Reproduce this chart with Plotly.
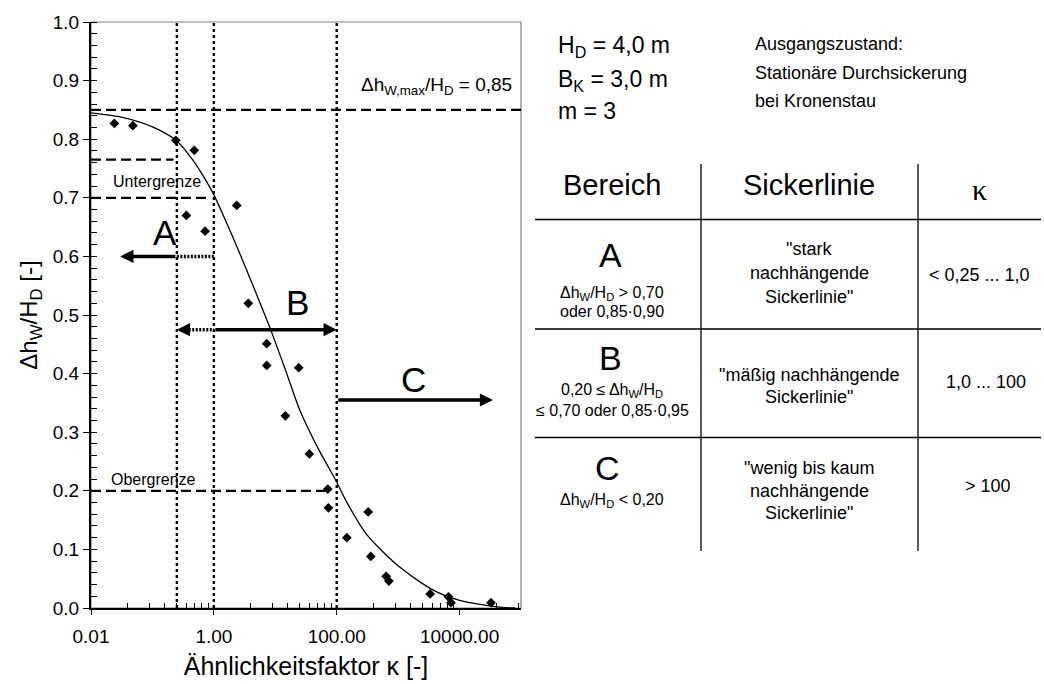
import numpy as np
import plotly.graph_objects as go

FONT = "Liberation Sans, Arial, sans-serif"

# ---------------- data ----------------
kappa_pts = [0.024, 0.048, 0.24, 0.48, 0.357, 0.72, 2.36, 3.64, 7.25, 7.25, 14.6, 24.1,
             35.9, 71.6, 73.3, 146, 325, 359, 638, 707, 3320, 6600, 7240, 32500]
dh_pts = [0.827, 0.823, 0.798, 0.781, 0.670, 0.643, 0.687, 0.520, 0.451, 0.414, 0.328, 0.410,
          0.263, 0.203, 0.171, 0.120, 0.164, 0.088, 0.054, 0.046, 0.024, 0.019, 0.009, 0.009]

kappa_curve = [0.01, 0.03, 0.1, 0.25, 0.45, 0.68, 1.0, 1.6, 2.5, 4.5, 8.2, 15, 25, 50, 100,
               140, 300, 1000, 3800, 10000, 30000, 55000, 80000]
dh_curve = [0.845, 0.838, 0.821, 0.797, 0.765, 0.736, 0.705, 0.658, 0.611, 0.546, 0.478, 0.403,
            0.338, 0.272, 0.215, 0.184, 0.127, 0.072, 0.030, 0.013, 0.004, 0.0005, 0.0]

# reference lines
vline_kappa = [0.25, 1.0, 100.0]
hline_y = [0.85, 0.765, 0.70, 0.20]
hline_x_start = [0.01, 0.01, 0.01, 0.01]
hline_x_end = [100000, 0.22, 0.81, 65]

# arrows (y, tail, tip)
arrow_y = [0.60, 0.475, 0.475, 0.355]
arrow_tail = [0.25, 0.40, 1.0, 100]
arrow_tip = [0.03, 0.25, 100, 35000]
dotted_y = [0.60, 0.475]
dotted_from = [0.25, 0.30]
dotted_to = [1.0, 1.0]

# x ticks
xtick_vals = [0.01, 1, 100, 10000]
xtick_text = ["0.01", "1.00", "100.00", "10000.00"]
xminor_vals = [k * k * 10.0 ** e for e in (-2, 0, 2, 4) for k in range(2, 10)]

# ---------------- figure ----------------
W, H = 1044, 684
L, R, T, B = 91, 521, 22, 608


def px(x):
    return (x - L) / (R - L)


def py(y):
    return (B - y) / (B - T)


fig = go.Figure()

for k in vline_kappa:
    fig.add_trace(go.Scatter(x=[k, k], y=[0, 1], mode="lines",
                             line=dict(color="black", width=2.4, dash="3px,3px"),
                             hoverinfo="skip", showlegend=False))

for yv, x0, x1 in zip(hline_y, hline_x_start, hline_x_end):
    fig.add_trace(go.Scatter(x=[x0, x1], y=[yv, yv], mode="lines",
                             line=dict(color="black", width=2.2, dash="10px,5px"),
                             hoverinfo="skip", showlegend=False))

for yv, x0, x1 in zip(dotted_y, dotted_from, dotted_to):
    fig.add_trace(go.Scatter(x=[x0, x1], y=[yv, yv], mode="lines",
                             line=dict(color="black", width=3.5, dash="2px,1.5px"),
                             hoverinfo="skip", showlegend=False))

fig.add_trace(go.Scatter(x=kappa_curve, y=dh_curve, mode="lines",
                         line=dict(color="black", width=1.3, shape="spline", smoothing=0.8),
                         showlegend=False))
fig.add_trace(go.Scatter(x=kappa_pts, y=dh_pts, mode="markers",
                         marker=dict(symbol="diamond", size=7.5, color="black"),
                         showlegend=False))

for yv, tail, tip in zip(arrow_y, arrow_tail, arrow_tip):
    fig.add_annotation(x=np.log10(tip), y=yv, ax=np.log10(tail), ay=yv,
                       xref="x", yref="y", axref="x", ayref="y",
                       text="", showarrow=True, arrowhead=2, arrowsize=0.75,
                       arrowwidth=3.5, arrowcolor="black", standoff=0, startstandoff=0)

# labels inside chart
chart_labels = [
    ("Untergrenze", 0.119, 0.728, 16),
    ("Obergrenze", 0.105, 0.220, 16),
    ("A", 0.158, 0.640, 35),
    ("B", 22.6, 0.522, 35),
    ("C", 1750, 0.390, 35),
]
for txt, k, yv, s in chart_labels:
    fig.add_annotation(x=np.log10(k), y=yv, xref="x", yref="y", text=txt, showarrow=False,
                       xanchor="center", yanchor="middle",
                       font=dict(size=s, family=FONT, color="black"))

fig.add_annotation(x=px(514), y=py(86), xref="paper", yref="paper",
                   text="Δh<sub>W,max</sub>/H<sub>D</sub> = 0,85", showarrow=False,
                   xanchor="right", yanchor="middle",
                   font=dict(size=19, family=FONT, color="black"))


def add_text(txt, x, y, size, xanchor="center", family=FONT):
    fig.add_annotation(text=txt, x=px(x), y=py(y), xref="paper", yref="paper",
                       showarrow=False, xanchor=xanchor, yanchor="middle",
                       font=dict(size=size, family=family, color="black"))


# parameters
add_text("H<sub>D</sub> = 4,0 m", 556, 46, 23, "left")
add_text("B<sub>K</sub> = 3,0 m", 556, 80, 23, "left")
add_text("m = 3", 556, 111, 23, "left")
add_text("Ausgangszustand:", 753, 44, 18, "left")
add_text("Stationäre Durchsickerung", 753, 73, 18, "left")
add_text("bei Kronenstau", 753, 101, 18, "left")

# table header
add_text("Bereich", 612, 185, 29)
add_text("Sickerlinie", 809, 185, 29)
add_text("κ", 979, 189, 30, family="Liberation Serif, Times New Roman, serif")

# row A
add_text("A", 610, 255, 34)
add_text("Δh<sub>W</sub>/H<sub>D</sub> &gt; 0,70", 612, 293, 16)
add_text("oder 0,85·0,90", 612, 311, 16)
add_text("\"stark", 809, 249, 18)
add_text("nachhängende", 809, 273, 18)
add_text("Sickerlinie\"", 809, 297, 18)
add_text("&lt; 0,25 ... 1,0", 979, 275, 18)

# row B
add_text("B", 610, 358, 34)
add_text("0,20 ≤ Δh<sub>W</sub>/H<sub>D</sub>", 612, 390, 16)
add_text("≤ 0,70 oder 0,85·0,95", 612, 410, 16)
add_text("\"mäßig nachhängende", 809, 375, 18)
add_text("Sickerlinie\"", 809, 397, 18)
add_text("1,0 ... 100", 986, 382, 18)

# row C
add_text("C", 607, 468, 34)
add_text("Δh<sub>W</sub>/H<sub>D</sub> &lt; 0,20", 612, 500, 16)
add_text("\"wenig bis kaum", 809, 468, 18)
add_text("nachhängende", 809, 491, 18)
add_text("Sickerlinie\"", 809, 513, 18)
add_text("&gt; 100", 988, 486, 18)

shapes = []
# table lines
for yy in (219.5, 329, 437.5):
    shapes.append(dict(type="line", xref="paper", yref="paper", x0=px(535), x1=px(1041),
                       y0=py(yy), y1=py(yy), line=dict(color="black", width=1.3)))
for xx in (701, 918):
    shapes.append(dict(type="line", xref="paper", yref="paper", x0=px(xx), x1=px(xx),
                       y0=py(164), y1=py(551), line=dict(color="black", width=1.3)))
# plot area border (top/right)
shapes.append(dict(type="rect", xref="paper", yref="paper", x0=0, x1=1, y0=0, y1=1,
                   line=dict(color="#7f7f7f", width=1.2), layer="below"))

fig.update_layout(
    width=W, height=H,
    margin=dict(l=L, r=W - R, t=T, b=H - B, autoexpand=False),
    paper_bgcolor="white", plot_bgcolor="white",
    font=dict(family=FONT, color="black"),
    shapes=shapes,
    showlegend=False,
    xaxis=dict(
        type="log", range=[-2, 5], automargin=False,
        tickmode="array", tickvals=xtick_vals, ticktext=xtick_text,
        ticks="outside", ticklen=5, tickwidth=1.3, tickcolor="black",
        ticklabelstandoff=5,
        tickfont=dict(size=19, family=FONT, color="black"),
        showline=True, linecolor="black", linewidth=2, mirror=False,
        showgrid=False, zeroline=False,
        minor=dict(tickmode="array", tickvals=xminor_vals, ticks="inside", ticklen=5,
                   tickwidth=1, tickcolor="black", showgrid=False),
        title=dict(text="Ähnlichkeitsfaktor κ [-]", font=dict(size=25, family=FONT, color="black"),
                   standoff=12),
    ),
    yaxis=dict(
        range=[0, 1], tickmode="linear", tick0=0, dtick=0.1, tickformat=".1f", automargin=False,
        ticks="outside", ticklen=6, tickwidth=1.3, tickcolor="black",
        tickfont=dict(size=19, family=FONT, color="black"),
        showline=True, linecolor="black", linewidth=2,
        showgrid=False, zeroline=False,
        minor=dict(dtick=0.02, ticks="inside", ticklen=6, tickwidth=1, tickcolor="black",
                   showgrid=False),
        title=dict(text="Δh<sub>W</sub>/H<sub>D</sub> [-]", font=dict(size=24, family=FONT, color="black"),
                   standoff=8),
    ),
)

fig.write_html("out.html")
